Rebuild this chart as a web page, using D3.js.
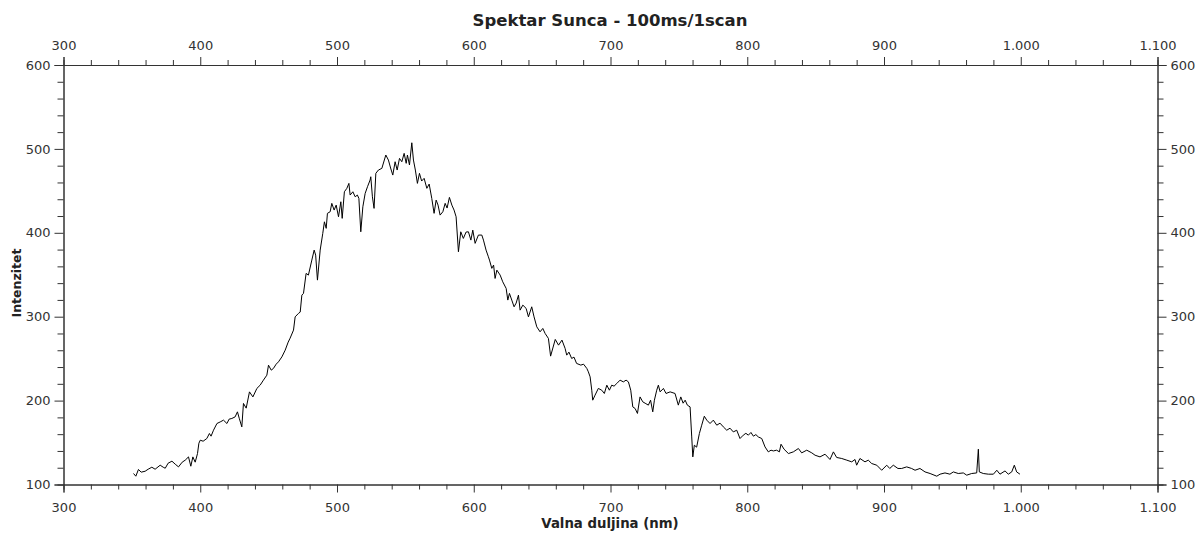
<!DOCTYPE html>
<html><head><meta charset="utf-8">
<script src="https://cdn.jsdelivr.net/npm/d3@7/dist/d3.min.js"></script>
<style>body{margin:0;background:#fff}svg{display:block}</style>
</head><body><svg id="c" width="1200" height="535"></svg>
<script>
const title = "Spektar Sunca - 100ms/1scan";
const xLabel = "Valna duljina (nm)";
const yLabel = "Intenzitet";
const xDomain = [300, 1100];
const yDomain = [100, 600];
const xMajorTicks = [300,400,500,600,700,800,900,1000,1100];
const yMajorTicks = [100,200,300,400,500,600];

const wavelength = [351.2,352.9,354.8,356.8,359.7,361.9,364.6,367.0,370.7,372.9,374.4,376.5,379.3,381.7,384.1,386.8,389.0,391.4,393.1,394.6,396.3,398.0,399.0,400.0,402.1,404.8,406.7,407.9,409.7,412.2,414.6,417.0,419.5,421.1,423.1,425.5,427.2,428.5,430.4,431.6,433.6,436.0,438.5,441.4,443.8,446.2,448.7,449.9,451.9,453.5,455.5,457.2,459.7,462.1,464.3,465.7,468.2,
469.4,471.8,473.1,474.3,475.5,477.4,479.1,481.6,483.3,484.4,485.7,487.7,489.6,490.8,492.1,493.0,495.0,496.2,497.9,499.4,501.1,502.8,503.8,505.4,507.2,508.7,509.6,511.6,513.3,514.9,516.0,517.4,518.9,520.6,522.3,524.2,524.7,525.9,527.1,528.4,530.3,532.8,535.7,537.6,539.2,540.8,542.5,544.0,545.7,547.4,549.1,550.6,551.5,553.0,554.7,555.9,557.3,558.8,560.3,561.9,563.7,565.7,567.4,569.3,571.0,572.5,573.9,575.4,577.4,579.1,580.5,582.2,584.0,585.6,587.1,588.8,590.5,592.4,594.4,596.1,597.9,599.3,601.0,603.4,605.9,607.1,609.0,610.7,611.5,613.2,614.5,615.6,616.9,619.3,621.2,623.7,624.9,626.1,627.8,629.5,631.0,632.7,633.9,635.9,638.3,640.0,642.4,644.1,646.1,648.5,650.5,652.2,654.6,656.2,659.6,662.0,664.5,666.8,
668.0,669.6,671.6,673.3,675.2,678.3,680.3,682.7,683.8,685.1,686.3,687.0,688.7,691.1,693.6,695.5,697.3,699.2,700.9,702.6,704.6,707.0,709.4,711.4,713.1,714.8,716.3,718.0,719.7,721.6,723.6,725.3,727.7,729.3,730.9,732.1,733.8,735.0,736.3,738.7,740.6,743.6,747.2,749.6,751.4,753.1,754.6,756.2,758.2,759.4,760.2,761.3,763.0,765.0,766.7,768.6,770.4,772.8,775.2,777.7,780.1,782.5,785.0,787.4,789.8,792.3,794.7,797.1,
799.0,800.8,802.7,804.5,806.3,808.1,810.6,813.0,815.4,817.4,819.1,821.5,823.5,824.7,826.9,830.1,833.7,837.4,839.8,843.5,847.2,849.6,853.2,856.9,860.5,863.0,865.4,869.1,872.8,876.4,878.8,880.0,882.4,886.1,888.5,891.0,894.7,898.3,902.0,904.2,906.8,910.2,912.9,916.6,920.2,922.7,926.3,930.0,933.7,938.6,941.0,944.6,948.2,950.7,954.3,958.0,960.5,964.1,967.8,969.0,969.7,972.6,976.3,980.0,982.5,984.8,988.5,990.9,993.4,995.3,997.0,999.4];

const intensity = [113.1,109.9,117.9,114.7,115.8,118.2,120.6,118.2,123.0,120.6,119.4,125.4,127.8,124.2,121.0,126.6,129.0,132.9,121.8,132.9,126.6,136.9,149.2,152.8,151.6,154.8,160.8,157.6,164.7,172.7,174.6,176.7,172.7,177.9,178.7,180.6,186.6,179.0,168.7,196.6,191.0,210.4,204.4,214.5,218.4,224.4,230.3,242.2,236.3,238.3,243.4,246.2,252.1,260.1,269.7,274.4,284.0,
299.8,303.9,305.5,325.7,327.8,351.6,349.6,367.5,379.4,373.4,343.6,379.4,399.3,413.1,405.3,423.2,425.1,435.1,427.1,433.0,419.1,437.0,417.2,448.9,453.0,458.9,445.0,448.9,442.9,445.0,441.0,401.2,431.0,447.0,454.9,462.9,466.8,442.9,429.1,470.9,474.8,476.8,492.7,486.7,477.2,468.8,484.7,474.8,488.7,484.7,494.7,482.8,492.7,480.8,507.3,486.7,474.8,458.9,470.9,461.7,464.9,453.0,458.1,441.0,423.2,439.0,433.0,421.1,425.1,435.1,429.5,442.2,433.0,427.1,419.1,377.4,401.2,393.3,400.9,401.2,391.3,403.2,387.4,397.3,397.3,391.3,379.4,371.4,367.5,357.6,361.5,345.6,355.5,349.6,341.6,333.7,319.8,327.8,319.8,311.8,316.2,325.7,307.8,313.8,309.9,299.8,311.8,299.8,287.9,282.0,286.0,280.0,274.1,253.0,272.9,266.1,272.1,262.2,
254.2,257.8,250.2,251.8,244.3,242.3,243.4,238.3,234.3,228.3,212.4,200.5,206.5,214.5,212.4,208.5,218.4,212.4,218.4,217.2,220.4,224.4,222.3,224.4,222.3,212.4,192.5,190.6,184.7,204.4,198.5,196.9,194.6,200.5,186.6,200.5,212.4,218.4,210.4,214.5,208.5,210.4,208.5,194.6,204.4,196.9,200.5,194.6,192.5,156.7,132.9,146.8,144.5,160.8,170.7,181.4,176.7,172.7,176.7,170.7,173.1,168.7,164.7,167.1,162.7,164.7,154.8,158.8,
161.0,158.8,162.0,157.6,159.5,156.7,154.8,144.8,138.9,140.9,140.0,140.9,138.9,148.0,142.1,136.9,138.9,142.9,137.7,140.9,137.7,134.9,132.9,136.1,129.8,138.9,132.2,131.0,129.0,127.0,129.8,123.0,131.0,127.0,129.0,125.0,123.0,117.0,123.0,119.1,123.0,119.1,119.1,121.0,119.1,117.0,119.1,115.0,113.1,109.9,112.3,113.8,112.3,115.0,113.1,113.8,111.1,113.1,113.8,142.1,115.0,113.1,112.3,112.3,117.0,112.3,116.2,112.3,115.0,123.0,115.0,112.3];

const svg = d3.select("#c");
const m = {left: 63.5, right: 1157.5, top: 65, bottom: 484.5};
const x = d3.scaleLinear().domain(xDomain).range([m.left, m.right]);
const y = d3.scaleLinear().domain(yDomain).range([m.bottom, m.top]);
const loc = d3.formatLocale({decimal: ",", thousands: ".", grouping: [3], currency: ["", ""]});
const fmt = loc.format(",d");
const xMinor = d3.range(xDomain[0], xDomain[1] + 1, 20).filter(v => v % 100 !== 0);
const yMinor = d3.range(yDomain[0], yDomain[1] + 1, 20).filter(v => v % 100 !== 0);
const axCol = "#333";
const font = "'DejaVu Sans', Verdana, sans-serif";

function styleAxis(g) {
  g.selectAll(".domain").attr("stroke", axCol).attr("stroke-width", 1);
  g.selectAll(".tick line").attr("stroke", axCol);
  g.selectAll("text").attr("fill", "#333").style("font-family", font).style("font-size", "13px");
}
function addAxis(axisFn, scale, transform, ticks, size, labels, pad) {
  const a = axisFn(scale).tickValues(ticks).tickSize(size).tickPadding(pad);
  a.tickFormat(labels ? fmt : "");
  const g = svg.append("g").attr("transform", transform).call(a);
  styleAxis(g);
  return g;
}
addAxis(d3.axisBottom, x, `translate(0,${m.bottom})`, xMinor, 5, false, 3);
addAxis(d3.axisBottom, x, `translate(0,${m.bottom})`, xMajorTicks, 8, true, 10);
addAxis(d3.axisTop, x, `translate(0,${m.top})`, xMinor, 5, false, 3);
addAxis(d3.axisTop, x, `translate(0,${m.top})`, xMajorTicks, 8, true, 7);
addAxis(d3.axisLeft, y, `translate(${m.left},0)`, yMinor, 6, false, 3);
addAxis(d3.axisLeft, y, `translate(${m.left},0)`, yMajorTicks, 9, true, 4);
addAxis(d3.axisRight, y, `translate(${m.right},0)`, yMinor, 6, false, 3);
addAxis(d3.axisRight, y, `translate(${m.right},0)`, yMajorTicks, 9, true, 4);

const pts = wavelength.map((w, i) => [w, intensity[i]]);
svg.append("path").datum(pts)
  .attr("fill", "none").attr("stroke", "#000").attr("stroke-width", 1)
  .attr("stroke-linejoin", "round")
  .attr("d", d3.line().x(d => x(d[0])).y(d => y(d[1])));

svg.append("text").attr("x", 610).attr("y", 26).attr("text-anchor", "middle")
  .style("font-family", font).style("font-weight", "bold").style("font-size", "16.5px").attr("fill", "#222").text(title);
svg.append("text").attr("x", 610).attr("y", 528).attr("text-anchor", "middle")
  .style("font-family", font).style("font-weight", "bold").style("font-size", "13.3px").attr("fill", "#222").text(xLabel);
svg.append("text").attr("transform", "translate(21,283) rotate(-90)").attr("text-anchor", "middle")
  .style("font-family", font).style("font-weight", "bold").style("font-size", "12.5px").attr("fill", "#222").text(yLabel);
</script></body></html>
